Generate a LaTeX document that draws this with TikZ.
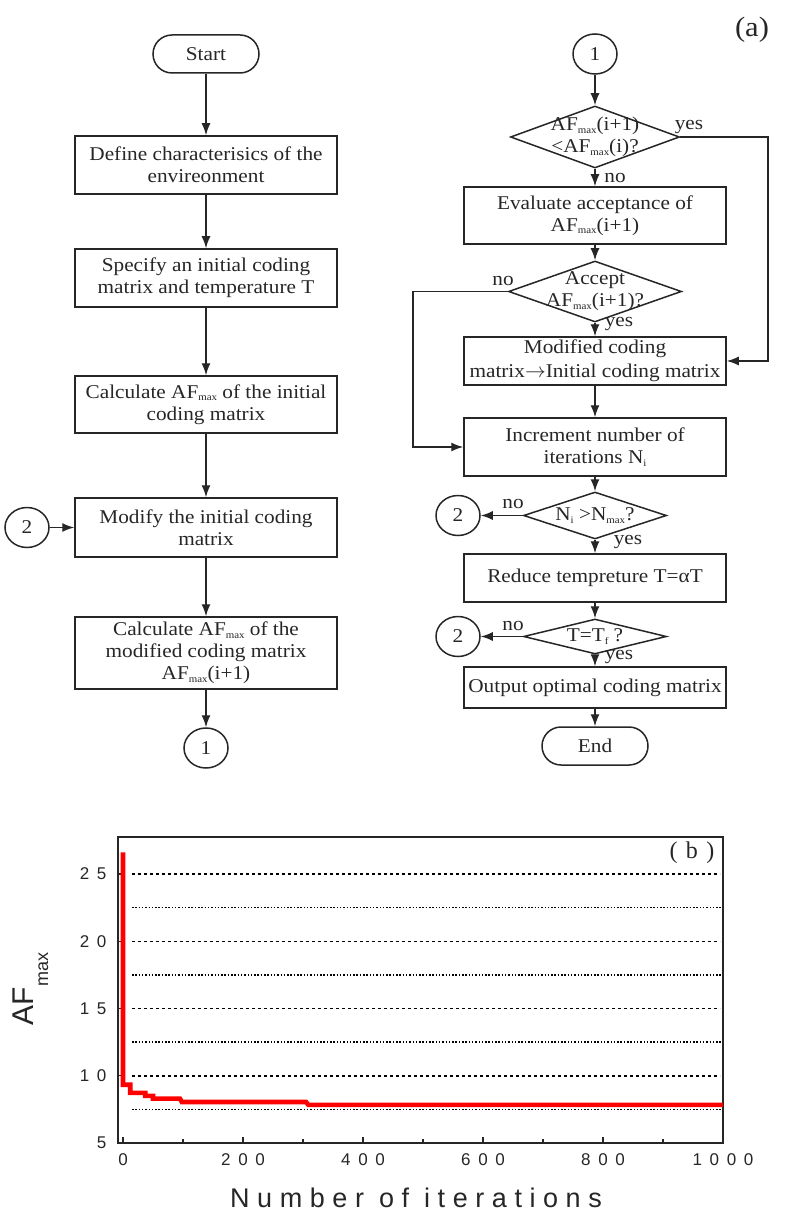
\documentclass[tikz,border=0pt]{standalone}
\usepackage{fontspec}
\setmainfont{Liberation Serif}[FakeStretch=1.09]
\newfontfamily\axisfont{Liberation Sans}
\newfontfamily\tickfont[LetterSpace=45]{Liberation Sans}
\newfontfamily\titlefont[LetterSpace=28]{Liberation Sans}
\newfontfamily\tagfont[LetterSpace=35]{Liberation Serif}
\usetikzlibrary{arrows.meta,shapes.geometric}
\newcommand{\subtxt}[1]{\raisebox{-0.3ex}{\fontsize{10}{10}\selectfont #1}}

\begin{document}
\begin{tikzpicture}[x=1pt, y=1pt, color=black!85, line width=1.4pt,
    font=\fontsize{19.5}{22}\selectfont,
    termnode/.style={draw, rounded corners=19pt, minimum width=106pt, minimum height=38pt, inner sep=0pt, line width=1.5pt},
    procbox/.style={draw, minimum width=262pt, align=center, inner sep=0pt, line width=1.5pt},
    decide/.style={draw, diamond, inner sep=0pt, line width=1.5pt},
    joint/.style={draw, ellipse, minimum width=44pt, minimum height=40pt, inner sep=0pt, line width=1.5pt},
    flowarrow/.style={-{Latex[length=12pt,width=9pt]}},
    yesno/.style={inner sep=0pt}]
    \useasboundingbox (0,0) rectangle (787,-1214);

    % left column
    \node[termnode] (start) at (206,-54) {Start};
    \node[procbox, minimum height=58pt] (envir) at (206,-165) {Define characterisics of the\\envireonment};
    \node[procbox, minimum height=58pt] (init) at (206,-278) {Specify an initial coding\\matrix and temperature T};
    \node[procbox, minimum height=57pt] (calcinit) at (206,-404.5) {Calculate AF\subtxt{max} of the initial\\coding matrix};
    \node[procbox, minimum height=59pt] (modify) at (206,-527.5) {Modify the initial coding\\matrix};
    \node[procbox, minimum height=72pt] (calcmod) at (206,-653) {Calculate AF\subtxt{max} of the\\modified coding matrix\\AF\subtxt{max}(i+1)};
    \node[joint] (outone) at (206,-748) {1};
    \node[joint] (intwo) at (27,-527.5) {2};

    \draw[flowarrow] (start) -- (envir);
    \draw[flowarrow] (envir) -- (init);
    \draw[flowarrow] (init) -- (calcinit);
    \draw[flowarrow] (calcinit) -- (modify);
    \draw[flowarrow] (modify) -- (calcmod);
    \draw[flowarrow] (calcmod) -- (outone);
    \draw[flowarrow] (intwo) -- (modify);

    % right column
    \node[joint] (inone) at (595,-54) {1};
    \node[decide, minimum width=169pt, minimum height=62pt,
        label={[align=center]center:{AF\subtxt{max}(i+1)\\<AF\subtxt{max}(i)?}}] (better) at (595,-137) {};
    \node[procbox, minimum height=57pt] (evalacc) at (595,-215.5) {Evaluate acceptance of\\AF\subtxt{max}(i+1)};
    \node[decide, minimum width=173pt, minimum height=61pt,
        label={[align=center]center:{Accept\\AF\subtxt{max}(i+1)?}}] (accept) at (595,-291.5) {};
    \node[procbox, minimum height=48pt, font=\fontsize{19.5}{24}\selectfont] (replace) at (595,-361)
        {Modified coding\\matrix$\rightarrow$Initial coding matrix};
    \node[procbox, minimum height=58pt] (incr) at (595,-447) {Increment number of\\iterations N\subtxt{i}};
    \node[decide, minimum width=143pt, minimum height=47pt,
        label={center:{N\subtxt{i} >N\subtxt{max}?}}] (itercheck) at (595,-515.5) {};
    \node[joint] (twoa) at (458,-515.5) {2};
    \node[procbox, minimum height=48pt] (cool) at (595,-578) {Reduce tempreture T=αT};
    \node[decide, minimum width=143pt, minimum height=35pt,
        label={center:{T=T\subtxt{f} ?}}] (tempcheck) at (595,-636.5) {};
    \node[joint] (twob) at (458,-636.5) {2};
    \node[procbox, minimum height=41pt] (output) at (595,-687.5) {Output optimal coding matrix};
    \node[termnode] (end) at (595,-746) {End};

    \coordinate (yesturn) at (768,-137);
    \coordinate (noturn) at (413,-291.5);

    \draw[flowarrow] (inone) -- (better);
    \draw[flowarrow] (better) -- (evalacc);
    \draw[flowarrow] (better.east) -- (yesturn) |- (replace.east);
    \draw[flowarrow] (evalacc) -- (accept);
    \draw[flowarrow] (accept) -- (replace);
    \draw[flowarrow] (accept.west) -- (noturn) |- (incr.west);
    \draw[flowarrow] (replace) -- (incr);
    \draw[flowarrow] (incr) -- (itercheck);
    \draw[flowarrow] (itercheck.west) -- (twoa);
    \draw[flowarrow] (itercheck) -- (cool);
    \draw[flowarrow] (cool) -- (tempcheck);
    \draw[flowarrow] (tempcheck.west) -- (twob);
    \draw[flowarrow] (tempcheck) -- (output);
    \draw[flowarrow] (output) -- (end);

    \node[yesno] (yes1) at (689,-127) {yes};
    \node[yesno] (no1) at (615,-178) {no};
    \node[yesno] (no2) at (503,-281) {no};
    \node[yesno] (yes2) at (619,-324) {yes};
    \node[yesno] (no3) at (513,-504) {no};
    \node[yesno] (yes3) at (628,-542) {yes};
    \node[yesno] (no4) at (513,-626) {no};
    \node[yesno] (yes4) at (619,-657) {yes};

    \node[font=\fontsize{28}{28}\selectfont] (taga) at (752,-30) {(a)};

    % convergence plot
    \begin{scope}[shift={(123,-1210.25)}, x=0.6pt, y=13.45pt]
        \draw[line width=1.4pt] (-8.3,5) rectangle (1000,27.75);
        \foreach \g in {10,15,20,25}
            \draw[black, line width=1.5pt, dash pattern=on 3pt off 3pt] (15,\g) -- (995,\g);
        \foreach \g in {7.5,12.5,17.5,22.5}
            \draw[black, line width=1.5pt, dash pattern=on 1.5pt off 1.8pt] (15,\g) -- (998,\g);
        \foreach \t in {0,200,...,1000}
            \draw[line width=1.3pt] (\t,5) -- ++(0pt,6pt);
        \foreach \t in {100,300,...,900}
            \draw[line width=1.3pt] (\t,5) -- ++(0pt,4pt);
        \foreach \v in {10,15,20,25}
            \draw[line width=1.3pt] (-8.3,\v) -- ++(4pt,0pt);
        \foreach \t in {0,200,...,1000}
            \node[anchor=north, inner sep=0pt, font=\tickfont\fontsize{17}{17}\selectfont] (xl\t) at ([yshift=-10pt]\t,5) {\t};
        \foreach \v in {5,10,...,25}
            \node[anchor=east, inner sep=0pt, font=\tickfont\fontsize{17}{17}\selectfont] (yl\v) at ([xshift=-11pt]-8.3,\v) {\v};
        \draw[red, line width=4.6pt] (0,26.6) -- (0,9.33) -- (12,9.33) -- (12,8.73) -- (37,8.73) -- (37,8.5)
            -- (50,8.5) -- (50,8.3) -- (95,8.3) -- (98,8.05) -- (305,8.05) -- (309,7.83) -- (1000,7.83);
    \end{scope}
    \node[font=\tagfont\fontsize{24}{24}\selectfont] (tagb) at (692,-853) {(b)};
    \node[font=\titlefont\fontsize{27}{27}\selectfont] (xtitle) at (416,-1198) {Number of iterations};
    \node[rotate=90, anchor=base west, inner sep=0pt, font=\axisfont\fontsize{30}{30}\selectfont] (ytitle) at (33,-1026)
        {AF\raisebox{-15pt}{\fontsize{18}{18}\selectfont max}};
\end{tikzpicture}
\end{document}
